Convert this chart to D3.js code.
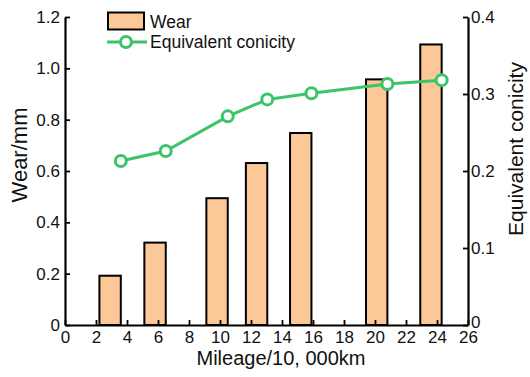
<!DOCTYPE html>
<html>
<head>
<meta charset="utf-8">
<script src="https://cdn.jsdelivr.net/npm/d3@7"></script>
<style>
  html, body { margin: 0; padding: 0; background: #fff; }
  svg { display: block; font-family: "Liberation Sans", Arial, sans-serif; }
</style>
</head>
<body>
<svg id="chart" width="530" height="377"></svg>
<script>
// Mileage (10,000 km) at which each measurement was taken
const mileage = [3.6, 6.5, 10.5, 13.05, 15.9, 20.8, 24.3];
// Wheel wear (mm)
const wear = [0.192, 0.321, 0.494, 0.631, 0.748, 0.957, 1.093];
// Equivalent conicity
const conicity = [0.213, 0.226, 0.271, 0.293, 0.301, 0.313, 0.318];

const xTicks = [0, 2, 4, 6, 8, 10, 12, 14, 16, 18, 20, 22, 24, 26];
const wearTicks = [0, 0.2, 0.4, 0.6, 0.8, 1.0, 1.2];
const conTicks = [0, 0.1, 0.2, 0.3, 0.4];
const barWidth = 1.38; // bar width in mileage units; each bar ends at its measurement point

const margin = { left: 65, right: 62, top: 17, bottom: 52 };
const W = 530, H = 377;
const svg = d3.select("#chart");

const x = d3.scaleLinear().domain([0, 26]).range([margin.left, W - margin.right]);
const yL = d3.scaleLinear().domain([0, 1.2]).range([H - margin.bottom, margin.top]);
const yR = d3.scaleLinear().domain([0, 0.4]).range([H - margin.bottom, margin.top]);

const green = "#3cc46a";
const peach = "#fdc897";
const ink = "#111";
const tickFont = 17;

// Wear bars
svg.append("g").selectAll("rect")
  .data(wear)
  .join("rect")
  .attr("x", (d, i) => x(mileage[i] - barWidth))
  .attr("width", (d, i) => x(mileage[i]) - x(mileage[i] - barWidth))
  .attr("y", d => yL(d))
  .attr("height", d => yL(0) - yL(d))
  .attr("fill", peach)
  .attr("stroke", "#000")
  .attr("stroke-width", 2);

// Axes, ticks pointing into the plot
const fmt = d => d === 0 ? "0" : d3.format(".1f")(d);

const gx = svg.append("g")
  .attr("transform", `translate(0,${yL(0)})`)
  .call(d3.axisBottom(x).tickValues(xTicks).tickSizeInner(-5).tickSizeOuter(0).tickFormat(d3.format("d")));
gx.selectAll("text").attr("y", 6).attr("dy", "0.71em");

const gl = svg.append("g")
  .attr("transform", `translate(${margin.left},0)`)
  .call(d3.axisLeft(yL).tickValues(wearTicks).tickSizeInner(-5).tickSizeOuter(0).tickFormat(fmt));
gl.selectAll("text").attr("x", -5);

const gr = svg.append("g")
  .attr("transform", `translate(${W - margin.right},0)`)
  .call(d3.axisRight(yR).tickValues(conTicks).tickSizeInner(-5).tickSizeOuter(0).tickFormat(fmt));
gr.selectAll("text").attr("x", 3);
// the right-hand zero sits just above the last mileage label
gr.selectAll(".tick").filter(d => d === 0).select("text").attr("y", -3);

[gx, gl, gr].forEach(g => {
  g.select(".domain").attr("stroke-width", 2.2).attr("stroke", "#000");
  g.selectAll(".tick line").attr("stroke-width", 1.8).attr("stroke", "#000");
  g.selectAll("text").attr("font-size", tickFont).attr("fill", ink)
    .attr("font-family", "Liberation Sans, Arial, sans-serif");
});

// Conicity line with hollow markers
const line = d3.line().x((d, i) => x(mileage[i])).y(d => yR(d));
svg.append("path")
  .datum(conicity)
  .attr("d", line)
  .attr("fill", "none")
  .attr("stroke", green)
  .attr("stroke-width", 3);
svg.append("g").selectAll("circle")
  .data(conicity)
  .join("circle")
  .attr("cx", (d, i) => x(mileage[i]))
  .attr("cy", d => yR(d))
  .attr("r", 5.5)
  .attr("fill", "#fff")
  .attr("stroke", green)
  .attr("stroke-width", 3);

// Axis titles
svg.append("text")
  .attr("x", 281).attr("y", 365)
  .attr("text-anchor", "middle").attr("font-size", 20).attr("fill", ink)
  .text("Mileage/10, 000km");
svg.append("text")
  .attr("transform", "translate(27,155) rotate(-90)")
  .attr("text-anchor", "middle").attr("font-size", 22).attr("fill", ink)
  .text("Wear/mm");
svg.append("text")
  .attr("transform", "translate(523,149) rotate(-90)")
  .attr("text-anchor", "middle").attr("font-size", 21).attr("fill", ink)
  .text("Equivalent conicity");

// Legend
const lg = svg.append("g");
lg.append("rect").attr("x", 108).attr("y", 12.5).attr("width", 36).attr("height", 17)
  .attr("fill", peach).attr("stroke", "#000").attr("stroke-width", 2);
lg.append("text").attr("x", 150).attr("y", 27.5).attr("font-size", 17.5).attr("fill", ink).text("Wear");
lg.append("line").attr("x1", 107).attr("x2", 147).attr("y1", 42).attr("y2", 42)
  .attr("stroke", green).attr("stroke-width", 3);
lg.append("circle").attr("cx", 126).attr("cy", 42).attr("r", 5.5)
  .attr("fill", "#fff").attr("stroke", green).attr("stroke-width", 3);
lg.append("text").attr("x", 150).attr("y", 48).attr("font-size", 17.5).attr("fill", ink).text("Equivalent conicity");
</script>
</body>
</html>
